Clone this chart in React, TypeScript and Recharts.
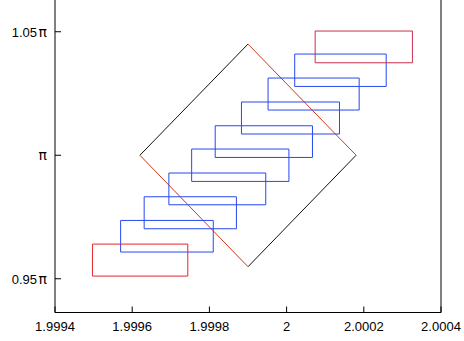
import { ComposedChart, Line, XAxis, YAxis } from "recharts";

const PI = Math.PI;

// x ticks and y ticks (y in multiples of π)
const X_TICKS = [1.9994, 1.9996, 1.9998, 2, 2.0002, 2.0004];
const Y_TICK_MULT = [0.95, 1, 1.05];
const Y_TICK_PREFIX = ["0.95", "", "1.05"];

// first and last box: [xLo, xHi, yLo, yHi]
const START_BOX = [1.999497, 1.999744, 2.9879, 3.0286];
const END_BOX = [2.000074, 2.000326, 3.2592, 3.2996];

// intermediate (blue) boxes
const STEP_X_LO = [1.99957, 1.999631, 1.999695, 1.999754, 1.999815, 1.999883, 1.999952, 2.000021];
const STEP_X_HI = [1.99981, 1.99987, 1.999946, 2.000006, 2.000067, 2.000137, 2.000188, 2.000258];
const STEP_Y_LO = [3.0185, 3.0481, 3.0786, 3.1083, 3.1388, 3.1686, 3.1991, 3.2291];
const STEP_Y_HI = [3.0587, 3.0888, 3.119, 3.1495, 3.1791, 3.2093, 3.2398, 3.2703];

// diamond vertices: left, top, right, bottom
const DIAMOND_X = [1.99962, 1.9999, 2.00018, 1.9999];
const DIAMOND_Y = [PI, 3.283, PI, 2.9998];

const FONT = "'Liberation Sans', Arial, Helvetica, sans-serif";

type Pt = { x: number; y: number };

const boxPath = (xLo: number, xHi: number, yLo: number, yHi: number): Pt[] => [
  { x: xLo, y: yLo },
  { x: xHi, y: yLo },
  { x: xHi, y: yHi },
  { x: xLo, y: yHi },
  { x: xLo, y: yLo },
];

const edge = (a: number, b: number): Pt[] => [
  { x: DIAMOND_X[a], y: DIAMOND_Y[a] },
  { x: DIAMOND_X[b], y: DIAMOND_Y[b] },
];

const stepBoxes = STEP_X_LO.map((_, i) =>
  boxPath(STEP_X_LO[i], STEP_X_HI[i], STEP_Y_LO[i], STEP_Y_HI[i])
);

// black edges go up-right, red edges go down-right
const blackEdges = [edge(0, 1), edge(2, 3)];
const redEdges = [edge(0, 3), edge(1, 2)];

// y tick label: number part + a wider π glyph
function PiTick(props: any) {
  const { x, y, payload } = props;
  const i = Y_TICK_MULT.findIndex((m) => Math.abs(m * PI - payload.value) < 1e-6);
  if (i < 0) return <g />;
  return (
    <text x={x} y={y + 5} textAnchor="end" fill="#000" fontFamily={FONT} fontSize={13}>
      {Y_TICK_PREFIX[i]}
      <tspan dx={Y_TICK_PREFIX[i] ? 1.5 : 0} fontFamily="'DejaVu Sans', sans-serif" fontSize={14}>
        π
      </tspan>
    </text>
  );
}

export default function App() {
  const axisLine = { stroke: "#000", strokeWidth: 1 };
  const tickLine = { stroke: "#000", strokeWidth: 1 };
  const tickStyle = { fontSize: 13, fill: "#000", fontFamily: FONT };

  return (
    <div style={{ position: "absolute", left: 0, top: -20 }}>
      <ComposedChart
        width={464}
        height={361}
        margin={{ top: 18, right: 0, bottom: 0, left: 0 }}
      >
        <XAxis
          xAxisId={0}
          type="number"
          dataKey="x"
          domain={[1.9994, 2.0004]}
          ticks={X_TICKS}
          allowDataOverflow
          height={28.5}
          tickSize={-6}
          tickMargin={15.5}
          axisLine={axisLine}
          tickLine={tickLine}
          tick={tickStyle}
          tickFormatter={(v: number) => String(Number(v.toFixed(4)))}
          interval={0}
        />
        <XAxis
          xAxisId="top"
          orientation="top"
          type="number"
          dataKey="x"
          domain={[1.9994, 2.0004]}
          ticks={X_TICKS}
          allowDataOverflow
          height={0}
          tickSize={-6}
          axisLine={axisLine}
          tickLine={tickLine}
          tick={false}
        />
        <YAxis
          yAxisId={0}
          type="number"
          domain={[PI - 0.2, PI + 0.2]}
          ticks={Y_TICK_MULT.map((m) => m * PI)}
          allowDataOverflow
          width={55}
          tickSize={-6}
          tickMargin={14}
          axisLine={axisLine}
          tickLine={tickLine}
          tick={<PiTick />}
          interval={0}
        />
        <YAxis
          yAxisId="right"
          orientation="right"
          type="number"
          domain={[PI - 0.2, PI + 0.2]}
          ticks={Y_TICK_MULT.map((m) => m * PI)}
          allowDataOverflow
          width={23}
          tickSize={-6}
          axisLine={axisLine}
          tickLine={tickLine}
          tick={false}
        />

        {blackEdges.map((d, i) => (
          <Line
            key={`b${i}`}
            data={d}
            dataKey="y"
            type="linear"
            stroke="#111"
            strokeWidth={1}
            dot={false}
            activeDot={false}
            isAnimationActive={false}
          />
        ))}
        {redEdges.map((d, i) => (
          <Line
            key={`r${i}`}
            data={d}
            dataKey="y"
            type="linear"
            stroke="#d0381a"
            strokeWidth={1}
            dot={false}
            activeDot={false}
            isAnimationActive={false}
          />
        ))}
        {stepBoxes.map((d, i) => (
          <Line
            key={`s${i}`}
            data={d}
            dataKey="y"
            type="linear"
            stroke="#2748f0"
            strokeWidth={1}
            dot={false}
            activeDot={false}
            isAnimationActive={false}
          />
        ))}
        <Line
          data={boxPath(START_BOX[0], START_BOX[1], START_BOX[2], START_BOX[3])}
          dataKey="y"
          type="linear"
          stroke="#e3262b"
          strokeWidth={1}
          dot={false}
          activeDot={false}
          isAnimationActive={false}
        />
        <Line
          data={boxPath(END_BOX[0], END_BOX[1], END_BOX[2], END_BOX[3])}
          dataKey="y"
          type="linear"
          stroke="#c8304c"
          strokeWidth={1}
          dot={false}
          activeDot={false}
          isAnimationActive={false}
        />
      </ComposedChart>
    </div>
  );
}
